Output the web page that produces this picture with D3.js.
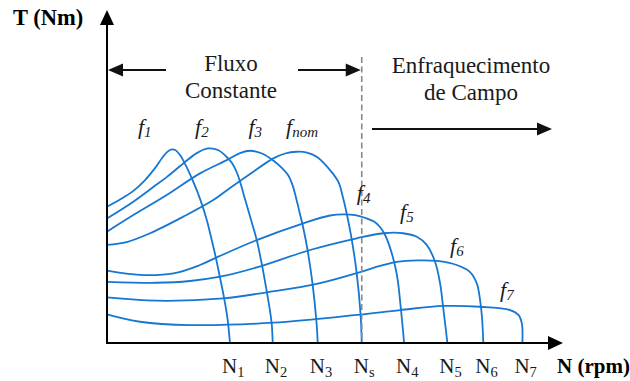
<!DOCTYPE html>
<html>
<head>
<meta charset="utf-8">
<script src="https://cdn.jsdelivr.net/npm/d3@7"></script>
<style>
  html, body { margin: 0; padding: 0; background: #fff; }
  svg { display: block; }
</style>
</head>
<body>
<svg id="chart" width="630" height="381"></svg>
<script>
// Zero-torque (synchronous) speed of each curve, rpm
const syncSpeeds = [869, 1171, 1489, 1800, 2099, 2405, 2659, 2935];
// Speed axis tick labels: [main, subscript]
const speedTicks = [["N", "1"], ["N", "2"], ["N", "3"], ["N", "s"], ["N", "4"], ["N", "5"], ["N", "6"], ["N", "7"]];
// Supply frequency of each curve: [main, subscript]
const freqNames = [["f", "1"], ["f", "2"], ["f", "3"], ["f", "nom"], ["f", "4"], ["f", "5"], ["f", "6"], ["f", "7"]];

// Torque-speed curves: [speed (rpm), torque (% of breakdown torque)]
const curveF1 = [[0, 69.9], [92, 73.6], [184, 77.9], [269, 83.6], [339, 89.7], [389, 94.9], [424, 97.9], [452, 99.2], [481, 99.0], [516, 96.4], [562, 90.3], [610, 82.6], [658, 73.8], [705, 63.1], [740, 52.8], [768, 44.1], [802, 32.3], [826, 23.6], [851, 12.8], [869, 0]];
const curveF2 = [[0, 63.9], [186, 72.5], [327, 80.0], [422, 85.1], [539, 92.1], [634, 97.4], [714, 99.8], [784, 99.0], [846, 95.4], [883, 92.3], [919, 87.2], [947, 81.0], [975, 73.8], [1018, 63.1], [1058, 52.8], [1095, 40.0], [1127, 27.2], [1151, 16.9], [1164, 9.7], [1171, 0]];
const curveF3 = [[0, 57.1], [186, 65.6], [422, 75.9], [657, 87.0], [846, 93.8], [940, 97.4], [1011, 98.6], [1095, 97.2], [1175, 93.6], [1237, 89.7], [1279, 86.2], [1311, 81.0], [1336, 74.4], [1360, 67.2], [1387, 59.0], [1417, 47.7], [1452, 30.6], [1480, 10.9], [1489, 0]];
const curveFnom = [[0, 50.3], [139, 51.8], [304, 56.3], [539, 64.8], [751, 73.3], [869, 79.5], [1011, 86.7], [1175, 94.7], [1258, 97.2], [1341, 98.1], [1413, 97.7], [1482, 95.5], [1576, 88.7], [1635, 82.6], [1666, 75.0], [1693, 66.7], [1713, 59.5], [1730, 52.8], [1763, 36.6], [1792, 14.4], [1800, 0]];
const curveF4 = [[0, 37.1], [233, 34.9], [469, 35.7], [657, 40.0], [775, 43.9], [1058, 52.8], [1387, 61.4], [1576, 65.4], [1670, 66.0], [1753, 65.6], [1835, 63.9], [1887, 62.3], [1929, 59.5], [1965, 55.4], [1996, 49.7], [2025, 42.6], [2046, 35.9], [2059, 29.7], [2076, 17.9], [2090, 7.7], [2099, 0]];
const curveF5 = [[0, 31.4], [351, 30.9], [587, 31.8], [799, 34.0], [1058, 38.8], [1435, 47.7], [1765, 53.7], [1953, 56.3], [2092, 56.3], [2189, 54.5], [2259, 50.3], [2318, 41.7], [2353, 30.8], [2374, 19.0], [2392, 8.2], [2405, 0]];
const curveF6 = [[0, 23.4], [351, 21.7], [822, 22.9], [1129, 26.0], [1482, 30.3], [1800, 36.6], [1929, 39.5], [2047, 41.6], [2198, 42.4], [2332, 42.1], [2471, 40.0], [2565, 36.4], [2613, 30.6], [2636, 22.1], [2650, 12.8], [2659, 0]];
const curveF7 = [[0, 14.7], [233, 10.9], [587, 9.2], [1175, 10.4], [1765, 14.4], [2071, 16.9], [2377, 19.0], [2636, 18.6], [2848, 16.9], [2907, 14.4], [2931, 10.1], [2935, 0]];
const curves = [curveF1, curveF2, curveF3, curveFnom, curveF4, curveF5, curveF6, curveF7];

// Where each frequency label sits, in [speed, torque]
const freqLabelAt = [[219, 107.2], [622, 107.2], [999, 107.2], [1265, 107.2], [1765, 73.3], [2071, 63.6], [2424, 46.2], [2777, 23.6]];

const svg = d3.select("#chart");
const serif = "'Liberation Serif', 'Times New Roman', serif";
const blue = "#1677d2";

const x = d3.scaleLinear().domain([0, 3222]).range([107, 563]);
const y = d3.scaleLinear().domain([0, 170.8]).range([343, 10]);

const x0 = x(0), y0 = y(0);
const xEnd = x.range()[1], yEnd = y.range()[1];

// Torque-speed curves
const line = d3.line()
  .x(d => x(d[0]))
  .y(d => y(d[1]))
  .curve(d3.curveCatmullRom.alpha(0.5));

svg.append("g")
  .selectAll("path")
  .data(curves)
  .join("path")
  .attr("d", line)
  .attr("fill", "none")
  .attr("stroke", blue)
  .attr("stroke-width", 1.8)
  .attr("stroke-linejoin", "round");

// Synchronous speed boundary (dashed)
const xs = x(syncSpeeds[3]);
svg.append("line")
  .attr("x1", xs).attr("x2", xs)
  .attr("y1", 57).attr("y2", y0)
  .attr("stroke", "#8a8a8a")
  .attr("stroke-width", 1.6)
  .attr("stroke-dasharray", "6,3.5");

// Axes with arrowheads
const axisG = svg.append("g").attr("stroke", "#000").attr("fill", "#000");
axisG.append("line")
  .attr("x1", x0).attr("y1", y0)
  .attr("x2", xEnd - 14).attr("y2", y0)
  .attr("stroke-width", 2);
axisG.append("path")
  .attr("stroke", "none")
  .attr("d", `M${xEnd},${y0} L${xEnd - 15},${y0 - 7} L${xEnd - 15},${y0 + 7} Z`);
axisG.append("line")
  .attr("x1", x0).attr("y1", y0 + 1)
  .attr("x2", x0).attr("y2", yEnd + 14)
  .attr("stroke-width", 2);
axisG.append("path")
  .attr("stroke", "none")
  .attr("d", `M${x0},${yEnd} L${x0 - 7},${yEnd + 15} L${x0 + 7},${yEnd + 15} Z`);

// Horizontal annotation arrows
function arrow(xFrom, xTo, yy) {
  const dir = Math.sign(xTo - xFrom);
  const g = svg.append("g");
  g.append("line")
    .attr("x1", xFrom).attr("y1", yy)
    .attr("x2", xTo - dir * 13).attr("y2", yy)
    .attr("stroke", "#111").attr("stroke-width", 2);
  g.append("path")
    .attr("fill", "#111")
    .attr("d", `M${xTo},${yy} L${xTo - dir * 15},${yy - 6.5} L${xTo - dir * 15},${yy + 6.5} Z`);
}
arrow(166, x0 + 1, 70);
arrow(298, xs - 1, 70);
arrow(372, 552, 129);

// Region captions
const caption = svg.append("g")
  .attr("font-family", serif)
  .attr("font-size", 23)
  .attr("fill", "#1a1a1a")
  .attr("text-anchor", "middle");
caption.append("text").attr("x", 231).attr("y", 71).text("Fluxo");
caption.append("text").attr("x", 231).attr("y", 98).text("Constante");
caption.append("text").attr("x", 471).attr("y", 73).text("Enfraquecimento");
caption.append("text").attr("x", 471).attr("y", 100).text("de Campo");

// Axis titles
svg.append("text")
  .attr("x", 13).attr("y", 25)
  .attr("font-family", serif).attr("font-weight", "bold").attr("font-size", 22.5)
  .attr("fill", "#000")
  .text("T (Nm)");
svg.append("text")
  .attr("x", 557).attr("y", 373)
  .attr("font-family", serif).attr("font-weight", "bold").attr("font-size", 21)
  .attr("fill", "#000")
  .text("N (rpm)");

// Speed tick labels with subscripts
const tickText = svg.append("g")
  .attr("font-family", serif)
  .attr("fill", "#1a1a1a")
  .selectAll("text")
  .data(syncSpeeds)
  .join("text")
  .attr("x", d => x(d) - 8)
  .attr("y", 373)
  .attr("font-size", 21);
tickText.append("tspan").text((d, i) => speedTicks[i][0]);
tickText.append("tspan")
  .attr("dy", 4)
  .attr("font-size", 14.5)
  .text((d, i) => speedTicks[i][1]);

// Frequency labels on the curves
const freqText = svg.append("g")
  .attr("font-family", serif)
  .attr("font-style", "italic")
  .attr("fill", "#1a1a1a")
  .selectAll("text")
  .data(freqLabelAt)
  .join("text")
  .attr("x", d => x(d[0]))
  .attr("y", d => y(d[1]))
  .attr("font-size", 22);
freqText.append("tspan").text((d, i) => freqNames[i][0]);
freqText.append("tspan")
  .attr("dy", 3)
  .attr("font-size", 15)
  .text((d, i) => freqNames[i][1]);
</script>
</body>
</html>
